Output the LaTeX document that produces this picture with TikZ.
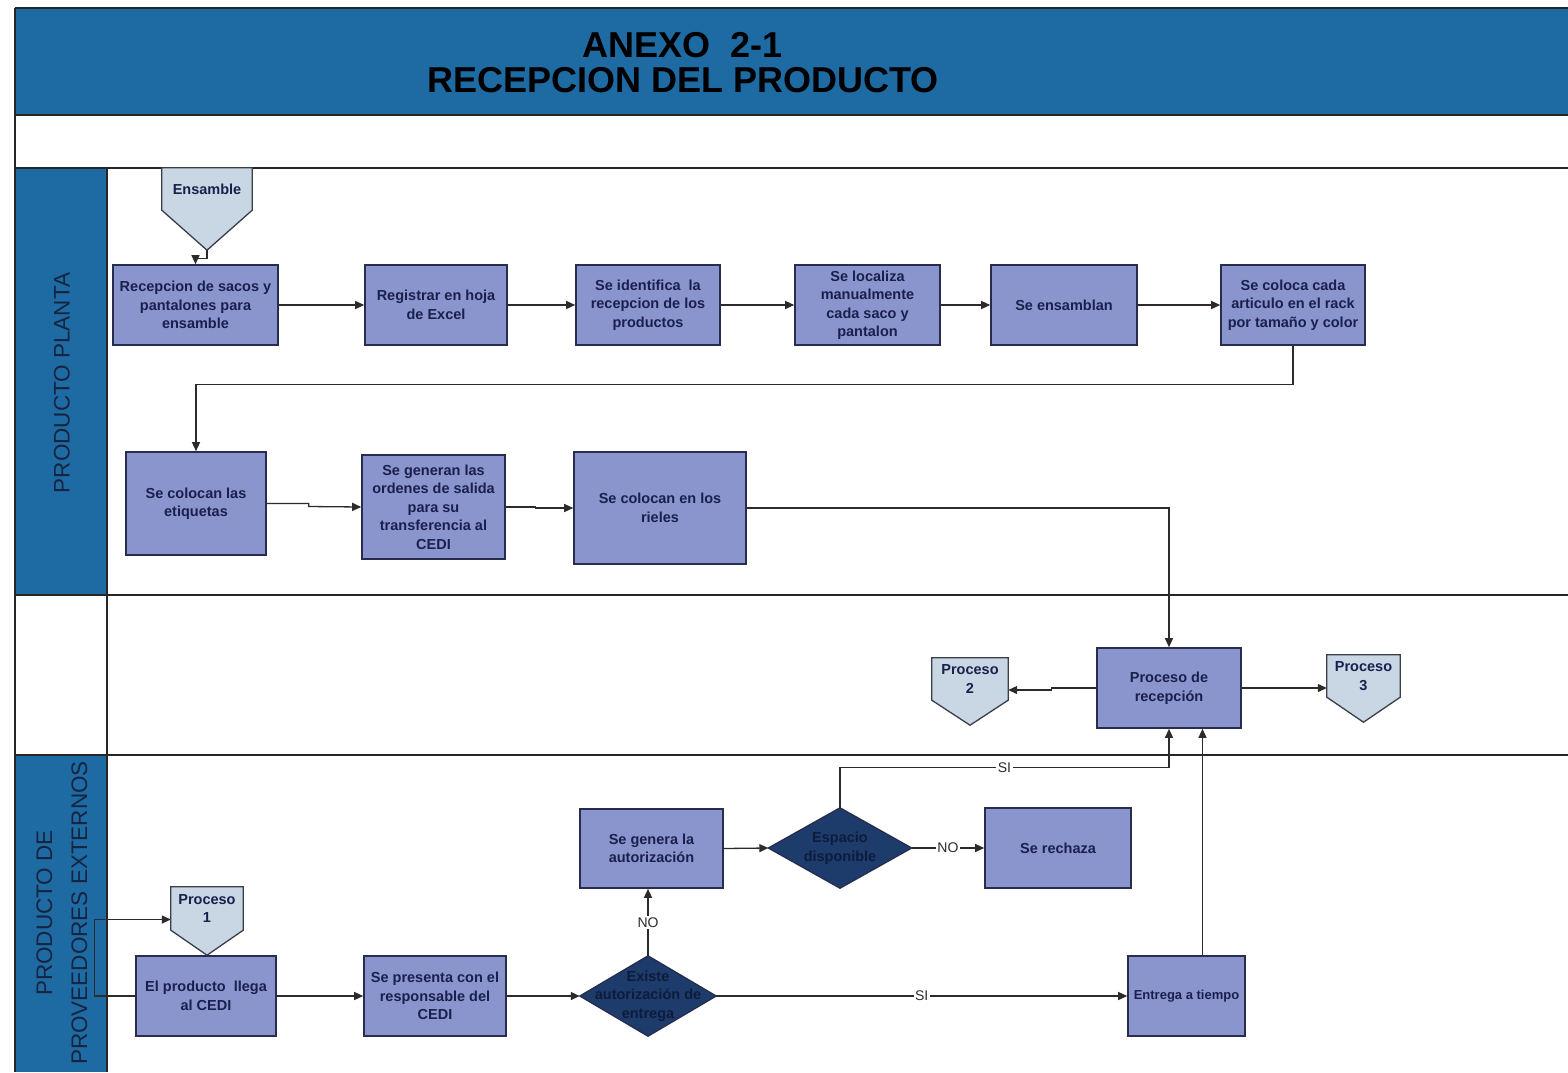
\documentclass[tikz,border=0pt]{standalone}
\usepackage{fontspec}
\setmainfont{Liberation Sans}
\usetikzlibrary{arrows.meta,calc}
\pgfdeclarelayer{bg}
\pgfsetlayers{bg,main}
\definecolor{hdrblue}{RGB}{30,106,163}
\definecolor{boxfill}{RGB}{139,149,205}
\definecolor{boxline}{RGB}{40,44,78}
\definecolor{boxtext}{RGB}{26,32,78}
\definecolor{offfill}{RGB}{201,214,227}
\definecolor{offline}{RGB}{58,62,74}
\definecolor{decfill}{RGB}{29,59,107}
\definecolor{dectext}{RGB}{14,28,60}
\definecolor{lineclr}{RGB}{46,42,42}
\definecolor{lanetext}{RGB}{22,36,64}
\newcommand\boxfont{\bfseries\fontsize{14.5}{18.5}\selectfont}
\newcommand\smallboxfont{\bfseries\fontsize{13}{16}\selectfont}
\newcommand\labfont{\fontsize{14}{16}\selectfont}
\newcommand\lanefont{\fontsize{22.5}{35}\selectfont}
\newcommand\titlefont{\bfseries\fontsize{36}{35}\selectfont}
\newcommand\offpage[2]{%
  \coordinate (#1tip) at ([yshift=-#2]#1.south);
  \begin{pgfonlayer}{bg}
  \path[offshape] (#1.north west) -- (#1.north east) -- (#1.south east) -- (#1tip) -- (#1.south west) -- cycle;
  \end{pgfonlayer}}
\newcommand\decision[1]{%
  \begin{pgfonlayer}{bg}
  \path[decshape] (#1.north) -- (#1.east) -- (#1.south) -- (#1.west) -- cycle;
  \end{pgfonlayer}}
\begin{document}
\begin{tikzpicture}[x=1pt,y=-1pt,
  frame/.style={draw=black!85, line width=1.6pt},
  proc/.style={draw=boxline, fill=boxfill, line width=1.6pt, text=boxtext, font=\boxfont, align=center, inner sep=1pt},
  offbox/.style={draw=none, text=boxtext, font=\boxfont, align=center, inner sep=0pt},
  offshape/.style={draw=offline, fill=offfill, line width=1.3pt},
  decbox/.style={draw=none, text=dectext, font=\boxfont, align=center, inner sep=0pt},
  decshape/.style={draw=boxline, fill=decfill, line width=1.3pt},
  conn/.style={draw=lineclr, line width=1.3pt, -{Triangle[length=9pt,width=8pt]}},
  lab/.style={fill=white, font=\labfont, text=lineclr, inner sep=1.5pt}]
\useasboundingbox (0,0) rectangle (1568,1072);
\begin{pgfonlayer}{bg}
  \fill[hdrblue] (15,8) rectangle (1568,115);
  \fill[hdrblue] (15,168) rectangle (107,595);
  \fill[hdrblue] (15,755) rectangle (107,1072);
  \draw[frame] (15,8) -- (1568,8);
  \draw[frame] (15,115) -- (1568,115);
  \draw[frame] (15,168) -- (1568,168);
  \draw[frame] (15,595) -- (1568,595);
  \draw[frame] (15,755) -- (1568,755);
  \draw[frame] (15,8) -- (15,1072);
  \draw[frame] (107,168) -- (107,1072);
\end{pgfonlayer}

% title and lanes
\node[font=\titlefont, align=center, text=black] (title) at (683,62.5) {ANEXO\ \ 2-1\\RECEPCION DEL PRODUCTO};
\node[rotate=90, font=\lanefont, text=lanetext] (lane1) at (62,383) {PRODUCTO PLANTA};
\node[rotate=90, font=\lanefont, text=lanetext, align=center] (lane3) at (62,913) {PRODUCTO DE\\PROVEEDORES EXTERNOS};

% lane 1, row 1
\node[offbox, minimum width=90pt, minimum height=42pt] (ens) at (207,189) {\raisebox{-9pt}{Ensamble}};
\offpage{ens}{40pt}
\node[proc, minimum width=165pt, minimum height=80pt] (b1) at (195.5,305) {Recepcion de sacos y\\pantalones para\\ensamble};
\node[proc, minimum width=142pt, minimum height=80pt] (b2) at (436,305) {Registrar en hoja\\de Excel};
\node[proc, minimum width=144pt, minimum height=80pt] (b3) at (648,305) {Se identifica\ \ la\\recepcion de los\\productos};
\node[proc, minimum width=145pt, minimum height=80pt] (b4) at (867.5,305) {Se localiza\\manualmente\\cada saco y\\pantalon};
\node[proc, minimum width=146pt, minimum height=80pt] (b5) at (1064,305) {Se ensamblan};
\node[proc, minimum width=144pt, minimum height=80pt] (b6) at (1293,305) {Se coloca cada\\articulo en el rack\\por tamaño y color};

% lane 1, row 2
\node[proc, minimum width=140pt, minimum height=103pt] (b7) at (196,503.5) {Se colocan las\\etiquetas};
\node[proc, minimum width=143pt, minimum height=104pt] (b8) at (433.5,507) {Se generan las\\ordenes de salida\\para su\\transferencia al\\CEDI};
\node[proc, minimum width=172pt, minimum height=112pt] (b9) at (660,508) {Se colocan en los\\rieles};

% middle lane
\node[proc, minimum width=144pt, minimum height=80pt] (pr) at (1169,688) {Proceso de\\recepción};
\node[offbox, minimum width=76pt, minimum height=42pt] (p2) at (970,679) {Proceso\\2};
\offpage{p2}{25pt}
\node[offbox, minimum width=73pt, minimum height=42pt] (p3) at (1363.5,676) {Proceso\\3};
\offpage{p3}{25pt}

% bottom lane
\node[offbox, minimum width=72pt, minimum height=43pt] (p1) at (207,908.5) {Proceso\\1};
\offpage{p1}{25pt}
\node[proc, minimum width=140pt, minimum height=80pt] (e1) at (206,996) {El producto\ \ llega\\al CEDI};
\node[proc, minimum width=142pt, minimum height=80pt] (e2) at (435,996) {Se presenta con el\\responsable del\\CEDI};
\node[decbox, minimum width=136pt, minimum height=80pt] (d1) at (648,996) {Existe\\autorización de\\entrega};
\decision{d1}
\node[proc, minimum width=143pt, minimum height=79pt] (e3) at (651.5,848.5) {Se genera la\\autorización};
\node[decbox, minimum width=143pt, minimum height=80pt] (d2) at (840,848) {Espacio\\disponible};
\decision{d2}
\node[proc, minimum width=146pt, minimum height=80pt] (e4) at (1058,848) {Se rechaza};
\node[proc, font=\smallboxfont, minimum width=117pt, minimum height=80pt] (e5) at (1186.5,996) {Entrega a tiempo};

% connectors lane 1
\draw[conn] (enstip) -- ++(0,8) -| (b1.north);
\draw[conn] (b1.east) -- (b2.west);
\draw[conn] (b2.east) -- (b3.west);
\draw[conn] (b3.east) -- (b4.west);
\draw[conn] (b4.east) -- (b5.west);
\draw[conn] (b5.east) -- (b6.west);
\draw[conn] (b6.south) -- ++(0,39) -| (b7.north);
\draw[conn] (b7.east) -- ++(42,0) -- ++(0,3) -- (b8.west);
\draw[conn] (b8.east) -- ++(30,0) -- ++(0,1) -- (b9.west);
\draw[conn] (b9.east) -| (pr.north);

% connectors middle lane
\draw[conn] (pr.west) -- ++(-45,0) -- ++(0,2) -- ([yshift=-11pt]p2.east);
\draw[conn] (pr.east) -- (pr.east -| p3.west);

% connectors bottom lane
\draw[conn] (e1.west) -- ++(-41,0) |- ([yshift=-11pt]p1.west);
\draw[conn] (e1.east) -- (e2.west);
\draw[conn] (e2.east) -- (d1.west);
\draw[conn] (d1.north) -- node[lab] {NO} (d1.north |- e3.south);
\draw[conn] (d1.east) -- node[lab] {SI} (e5.west);
\draw[conn] (e3.east) -- (d2.west);
\draw[conn] (d2.east) -- node[lab] {NO} (e4.west);
\draw[conn] (d2.north) -- ++(0,-40) -| node[lab, pos=0.25] {SI} (pr.south);
\draw[conn] ([xshift=16pt]e5.north) -- ([xshift=16pt]e5.north |- pr.south);
\end{tikzpicture}
\end{document}
